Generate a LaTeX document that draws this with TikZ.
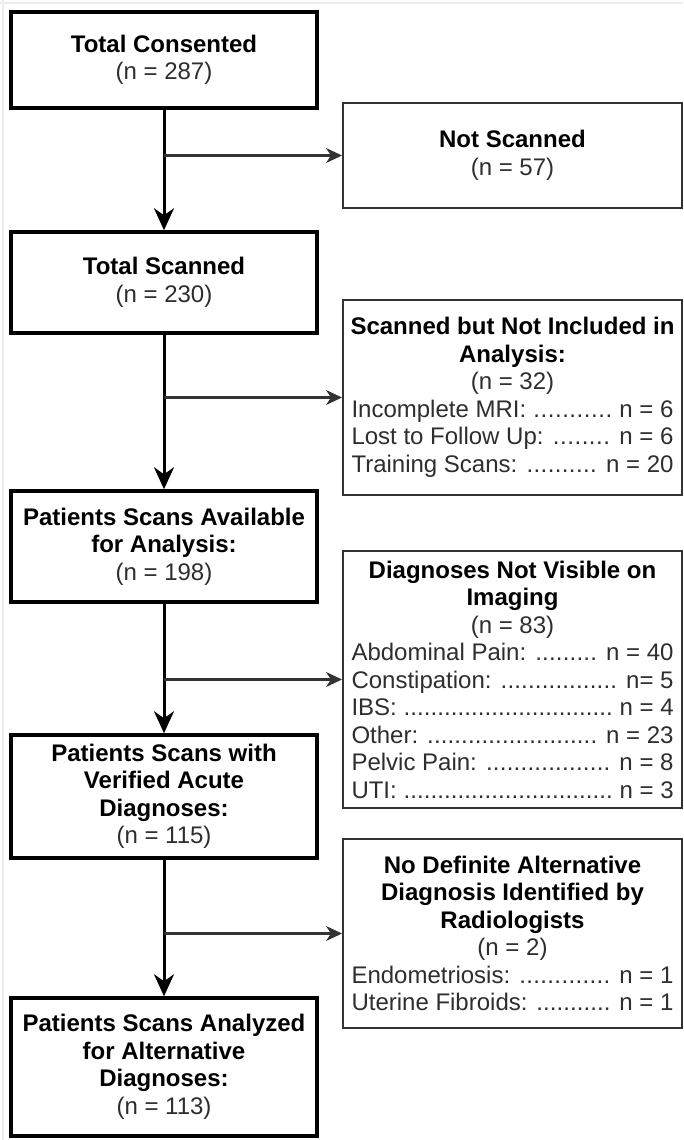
\documentclass[tikz,border=0pt]{standalone}
\usepackage{fontspec}
\setmainfont{Liberation Sans}
\usetikzlibrary{arrows.meta}
\definecolor{txt}{HTML}{2E2E2E}
\definecolor{edgec}{HTML}{333333}
\definecolor{frame}{HTML}{ECECEC}
\newcommand{\lstline}[2]{\makebox[322pt]{#1 \xleaders\hbox{.}\hfill{} #2}}
\begin{document}
\begin{tikzpicture}[x=1pt,y=-1pt,
  lbox/.style={draw=black, line width=3.5pt, minimum width=306pt, inner sep=0pt,
    align=center, text=txt, font=\fontsize{24}{27.5}\selectfont},
  rbox/.style={draw=edgec, line width=2pt, minimum width=339pt, inner sep=0pt,
    align=center, text=txt, font=\fontsize{24}{27.5}\selectfont},
  mainarrow/.style={draw=black, line width=3pt, -{Stealth[length=22pt,width=20pt,inset=7pt]}},
  branch/.style={draw=edgec, line width=2.2pt, -{Stealth[length=16pt,width=15pt,inset=5pt]}}
]
\useasboundingbox (0,0) rectangle (683,1140);
\fill[white] (0,0) rectangle (683,1140);
\draw[frame, line width=1.2pt] (0,3) -- (683,3);
\draw[frame, line width=1.2pt] (3,0) -- (3,1140);

% left column
\node[lbox, minimum height=96pt] (b1) at (164,60)
  {\textbf{\color{black}Total Consented}\\(n = 287)};
\node[lbox, minimum height=101pt] (b2) at (164,282.5)
  {\textbf{\color{black}Total Scanned}\\(n = 230)};
\node[lbox, minimum height=111pt] (b3) at (164,546.5)
  {\textbf{\color{black}Patients Scans Available}\\\textbf{\color{black}for Analysis:}\\(n = 198)};
\node[lbox, minimum height=123pt] (b4) at (164,796.5)
  {\textbf{\color{black}Patients Scans with}\\\textbf{\color{black}Verified Acute}\\\textbf{\color{black}Diagnoses:}\\(n = 115)};
\node[lbox, minimum height=138pt] (b5) at (164,1067)
  {\textbf{\color{black}Patients Scans Analyzed}\\\textbf{\color{black}for Alternative}\\\textbf{\color{black}Diagnoses:}\\(n = 113)};

% right column
\node[rbox, minimum height=105pt] (r1) at (512.5,155.5)
  {\textbf{\color{black}Not Scanned}\\(n = 57)};
\node[rbox, minimum height=195pt] (r2) at (512.5,397.5)
  {\textbf{\color{black}Scanned but Not Included in}\\\textbf{\color{black}Analysis:}\\(n = 32)\\
   \lstline{Incomplete MRI:}{n = 6}\\
   \lstline{Lost to Follow Up:}{n = 6}\\
   \lstline{Training Scans:}{n = 20}};
\node[rbox, minimum height=257pt] (r3) at (512.5,679.5)
  {\textbf{\color{black}Diagnoses Not Visible on}\\\textbf{\color{black}Imaging}\\(n = 83)\\
   \lstline{Abdominal Pain:}{n = 40}\\
   \lstline{Constipation:}{n= 5}\\
   \lstline{IBS:}{n = 4}\\
   \lstline{Other:}{n = 23}\\
   \lstline{Pelvic Pain:}{n = 8}\\
   \lstline{UTI:}{n = 3}};
\node[rbox, minimum height=189pt] (r4) at (512.5,933.5)
  {\textbf{\color{black}No Definite Alternative}\\\textbf{\color{black}Diagnosis Identified by}\\\textbf{\color{black}Radiologists}\\(n = 2)\\
   \lstline{Endometriosis:}{n = 1}\\
   \lstline{Uterine Fibroids:}{n = 1}};

% main flow
\draw[mainarrow] (b1.south) -- (b2.north);
\draw[mainarrow] (b2.south) -- (b3.north);
\draw[mainarrow] (b3.south) -- (b4.north);
\draw[mainarrow] (b4.south) -- (b5.north);

% branches
\draw[branch] (b1.south |- r1.west) -- (r1.west);
\draw[branch] (b2.south |- r2.west) -- (r2.west);
\draw[branch] (b3.south |- r3.west) -- (r3.west);
\draw[branch] (b4.south |- r4.west) -- (r4.west);
\end{tikzpicture}
\end{document}
